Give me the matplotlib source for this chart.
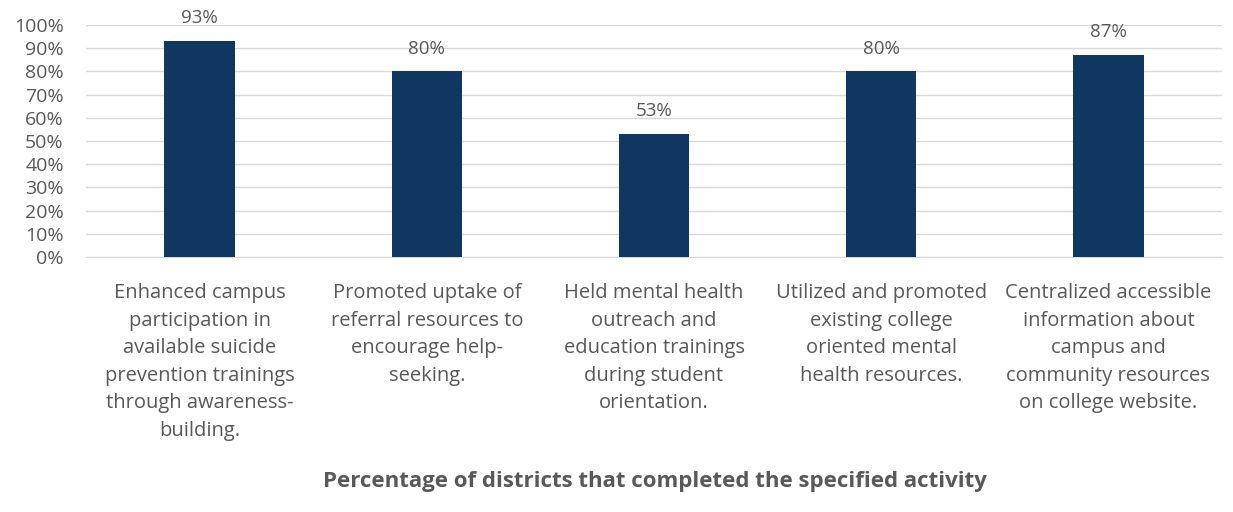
import matplotlib.pyplot as plt
from matplotlib.ticker import PercentFormatter

plt.rcParams['font.family'] = ['Open Sans', 'DejaVu Sans']

categories = [
    "Enhanced campus\nparticipation in\navailable suicide\nprevention trainings\nthrough awareness-\nbuilding.",
    "Promoted uptake of\nreferral resources to\nencourage help-\nseeking.",
    "Held mental health\noutreach and\neducation trainings\nduring student\norientation.",
    "Utilized and promoted\nexisting college\noriented mental\nhealth resources.",
    "Centralized accessible\ninformation about\ncampus and\ncommunity resources\non college website.",
]
values = [93, 80, 53, 80, 87]
labels = ["93%", "80%", "53%", "80%", "87%"]
title = "Percentage of districts that completed the specified activity"

text_color = "#595959"
bar_color = "#10375f"

fig = plt.figure(figsize=(12.33, 5.12), dpi=100)
ax = fig.add_axes([86 / 1233, 1 - 257 / 512, (1222 - 86) / 1233, (257 - 25) / 512])

x = range(len(values))
bars = ax.bar(x, values, width=0.31, color=bar_color, zorder=3)
for rect, lab in zip(bars, labels):
    ax.annotate(lab, (rect.get_x() + rect.get_width() / 2, rect.get_height()),
                xytext=(0, 10), textcoords="offset points",
                ha="center", va="bottom", fontsize=13.5, color=text_color)

ax.set_xlim(-0.5, len(values) - 0.5)
ax.set_ylim(0, 100)
ax.set_yticks(range(0, 101, 10))
ax.yaxis.set_major_formatter(PercentFormatter(decimals=0))
ax.tick_params(axis="y", length=0, labelsize=14, labelcolor=text_color, pad=16)
ax.tick_params(axis="x", length=0, labelsize=14.5, labelcolor=text_color, pad=19)
ax.set_xticks(list(x))
ax.set_xticklabels(categories, linespacing=1.5)
ax.grid(axis="y", color="#d9d9d9", linewidth=1, zorder=0)
for side in ["top", "right", "left"]:
    ax.spines[side].set_visible(False)
ax.spines["bottom"].set_color("#d9d9d9")

fig.text(655 / 1233, 1 - 482 / 512, title, ha="center", va="center",
         fontsize=16, fontweight="bold", color=text_color)

fig.savefig("out.png", dpi=100)
